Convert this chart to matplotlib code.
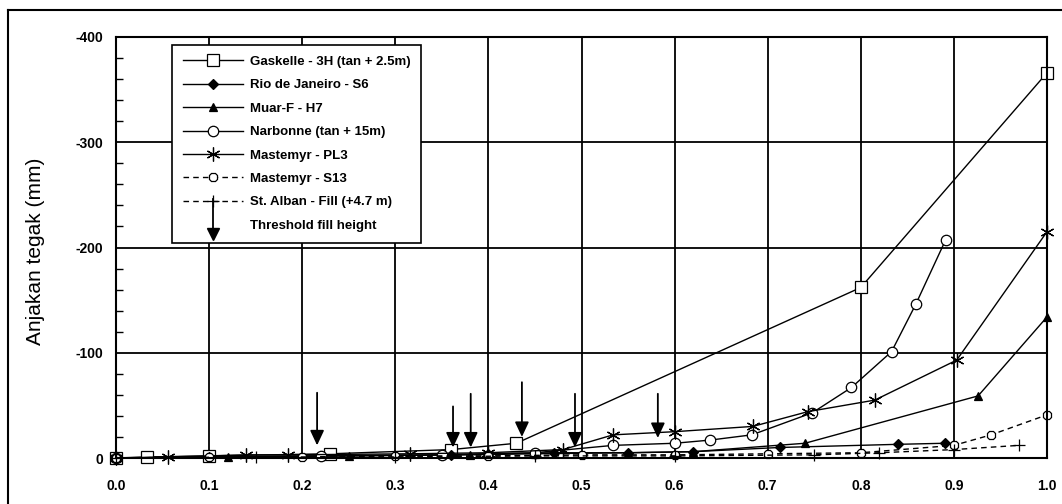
import matplotlib

matplotlib.use("Agg")
import matplotlib.pyplot as plt
from matplotlib.legend_handler import HandlerBase
from matplotlib.lines import Line2D

plt.rcParams["font.family"] = ["Liberation Sans", "DejaVu Sans"]
plt.rcParams["axes.unicode_minus"] = False

# settlement vs. normalised fill height, one pair of lists per site
gaskelle_x = [0.0, 0.033, 0.10, 0.23, 0.36, 0.43, 0.80, 1.0]
gaskelle_y = [0, -1, -2, -4, -8, -14, -162, -366]

rio_x = [0.0, 0.10, 0.22, 0.36, 0.40, 0.47, 0.55, 0.62, 0.713, 0.84, 0.89]
rio_y = [0, -1, -2, -3, -4, -5, -5, -6, -10, -13, -14]

muar_x = [0.0, 0.12, 0.25, 0.38, 0.45, 0.55, 0.62, 0.74, 0.926, 1.0]
muar_y = [0, -1, -2, -3, -4, -5, -6, -14, -59, -134]

narbonne_x = [0.0, 0.22, 0.35, 0.45, 0.534, 0.60, 0.638, 0.683, 0.748, 0.79, 0.833, 0.859, 0.891]
narbonne_y = [0, -2, -3, -5, -12, -14, -17, -22, -43, -67, -101, -146, -207]

pl3_x = [0.0, 0.056, 0.14, 0.185, 0.316, 0.40, 0.48, 0.534, 0.60, 0.684, 0.743, 0.815, 0.903, 1.0]
pl3_y = [0, -1, -3, -3, -4, -5, -8, -22, -25, -30, -44, -55, -93, -215]

s13_x = [0.0, 0.10, 0.20, 0.30, 0.40, 0.50, 0.60, 0.70, 0.80, 0.90, 0.94, 1.0]
s13_y = [0, -1, -1, -2, -2, -3, -3, -4, -5, -12, -22, -41]

stalban_x = [0.0, 0.15, 0.30, 0.45, 0.60, 0.75, 0.82, 0.90, 0.97]
stalban_y = [0, -1, -1, -2, -2, -3, -5, -8, -12]

# threshold fill height arrows: position, tail and tip
thresh_x = [0.216, 0.362, 0.381, 0.436, 0.493, 0.582]
thresh_top = [-62, -49, -61, -72, -61, -61]
thresh_tip = [-12, -10, -10, -20, -10, -19]

x_ticks = [0.0, 0.1, 0.2, 0.3, 0.4, 0.5, 0.6, 0.7, 0.8, 0.9, 1.0]
y_ticks = [-400, -300, -200, -100, 0]

W, H = 1062, 504


class ArrowHandler(HandlerBase):
    """Legend key drawn as a downward arrow."""

    def create_artists(self, legend, orig_handle, xdescent, ydescent, width, height, fontsize, trans):
        cx = width / 2 - xdescent
        cy = height / 2 - ydescent
        stem = Line2D([cx, cx], [cy + 18, cy - 6], color="black", lw=1.3, transform=trans)
        head = Line2D([cx], [cy - 7], marker="v", markersize=8, color="black", transform=trans)
        return [stem, head]


fig = plt.figure(figsize=(W / 100, H / 100), dpi=100)
ax = fig.add_axes([116 / W, 1 - 458 / H, (1047 - 116) / W, (458 - 37) / H])

common = dict(color="black", lw=1.0, clip_on=False, mfc="white", mec="black", mew=0.9)
ax.plot(gaskelle_x, gaskelle_y, marker="s", ms=9, label="Gaskelle - 3H (tan + 2.5m)", **common)
ax.plot(rio_x, rio_y, marker="D", ms=5, label="Rio de Janeiro - S6",
        **{**common, "mfc": "black"})
ax.plot(muar_x, muar_y, marker="^", ms=6, label="Muar-F - H7", **{**common, "mfc": "black"})
ax.plot(narbonne_x, narbonne_y, marker="o", ms=7.5, label="Narbonne (tan + 15m)", **common)
ax.plot(pl3_x, pl3_y, marker=(6, 2, 0), ms=10, label="Mastemyr - PL3", **common)
ax.plot(s13_x, s13_y, marker="8", ms=7, ls=(0, (4, 3)), label="Mastemyr - S13", **common)
ax.plot(stalban_x, stalban_y, marker="+", ms=9, ls=(0, (4, 3)),
        label="St. Alban - Fill (+4.7 m)", **common)

for x, top, tip in zip(thresh_x, thresh_top, thresh_tip):
    ax.annotate("", xy=(x, tip), xytext=(x, top),
                arrowprops=dict(arrowstyle="-|>,head_length=0.9,head_width=0.42",
                                color="black", lw=1.3, shrinkA=0, shrinkB=0))

ax.set_xlim(0, 1)
ax.set_ylim(0, -400)
ax.set_xticks(x_ticks)
ax.set_xticklabels([f"{v:.1f}" for v in x_ticks])
ax.set_yticks(y_ticks)
ax.set_yticklabels([str(v) for v in y_ticks])
ax.set_yticks(range(-380, 0, 20), minor=True)
ax.tick_params(axis="both", which="major", direction="in", length=0, labelsize=10)
ax.tick_params(axis="x", which="major", pad=15)
ax.tick_params(axis="y", which="major", pad=9)
ax.tick_params(axis="y", which="minor", direction="in", length=5, width=1.0)
for lbl in ax.get_xticklabels() + ax.get_yticklabels():
    lbl.set_fontweight("bold")
ax.grid(True, which="major", color="black", lw=1.3)
for sp in ax.spines.values():
    sp.set_linewidth(1.5)
ax.set_ylabel("Anjakan tegak (mm)", fontsize=15)
ax.yaxis.set_label_coords((45 - 116) / 931, 0.49)

handles, labels = ax.get_legend_handles_labels()
threshold = object()
handles.append(threshold)
labels.append("Threshold fill height")
leg = ax.legend(handles, labels, loc="upper left",
                bbox_to_anchor=((172 - 116) / 931, (458 - 45) / 421),
                borderaxespad=0, fancybox=False, framealpha=1, edgecolor="black",
                numpoints=1, handlelength=4.6, handletextpad=0.5, labelspacing=0.85,
                borderpad=0.8, prop={"weight": "bold", "size": 9.5},
                handler_map={threshold: ArrowHandler()})
leg.get_frame().set_linewidth(1.2)

fig.add_artist(Line2D([8 / W, 8 / W], [0, 1 - 10 / H], color="black", lw=1.5))
fig.add_artist(Line2D([8 / W, 1], [1 - 10 / H, 1 - 10 / H], color="black", lw=1.5))

fig.savefig("out.png", dpi=100)
